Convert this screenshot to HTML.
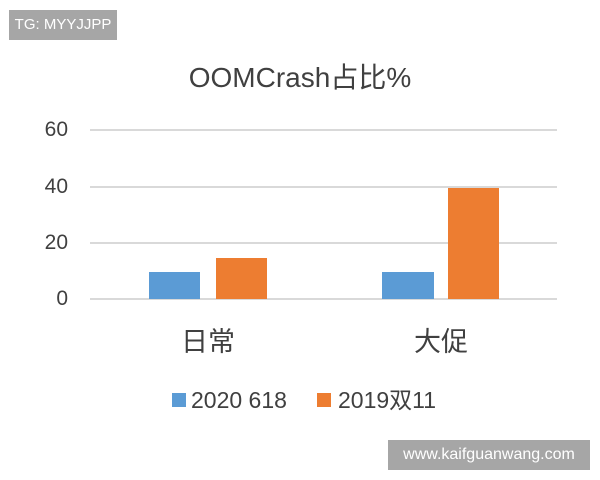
<!DOCTYPE html>
<html><head><meta charset="utf-8"><style>
body{margin:0;width:600px;height:480px;background:#fff;position:relative;overflow:hidden;font-family:"Liberation Sans","Noto Sans CJK SC",sans-serif;color:#404040}
.a{position:absolute}
.g{position:absolute;left:90px;width:467px;height:2px;background:#d9d9d9}
.y{position:absolute;left:30px;width:38px;text-align:right;font-size:21px;line-height:22px}
</style></head><body>
<div class="a" style="left:9px;top:10px;width:108px;height:30px;background:#a6a6a6;color:#fff;font-size:15px;line-height:30px;text-align:center">TG: MYYJJPP</div>
<div class="a" style="left:0;width:600px;top:60px;text-align:center;font-size:28px;line-height:36px">OOMCrash占比%</div>
<div class="g" style="top:129px"></div><div class="g" style="top:186px"></div><div class="g" style="top:242px"></div><div class="g" style="top:298px"></div>
<div class="y" style="top:119px">60</div><div class="y" style="top:176px">40</div><div class="y" style="top:232px">20</div><div class="y" style="top:288px">0</div>
<div class="a" style="left:149px;top:272px;width:51px;height:27px;background:#5b9bd5"></div>
<div class="a" style="left:216px;top:258px;width:51px;height:41px;background:#ed7d31"></div>
<div class="a" style="left:382px;top:272px;width:52px;height:27px;background:#5b9bd5"></div>
<div class="a" style="left:448px;top:188px;width:51px;height:111px;background:#ed7d31"></div>
<div class="a" style="left:158px;width:100px;top:325px;text-align:center;font-size:27px;line-height:34px">日常</div>
<div class="a" style="left:391px;width:100px;top:325px;text-align:center;font-size:27px;line-height:34px">大促</div>
<div class="a" style="left:172px;top:393px;width:14px;height:14px;background:#5b9bd5"></div>
<div class="a" style="left:191px;top:386px;font-size:23px;line-height:28px">2020 618</div>
<div class="a" style="left:317px;top:393px;width:14px;height:14px;background:#ed7d31"></div>
<div class="a" style="left:338px;top:386px;font-size:23px;line-height:28px">2019双11</div>
<div class="a" style="left:388px;top:440px;width:202px;height:30px;background:#a6a6a6;color:#fff;font-size:16px;line-height:30px;text-align:center">www.kaifguanwang.com</div>
</body></html>
